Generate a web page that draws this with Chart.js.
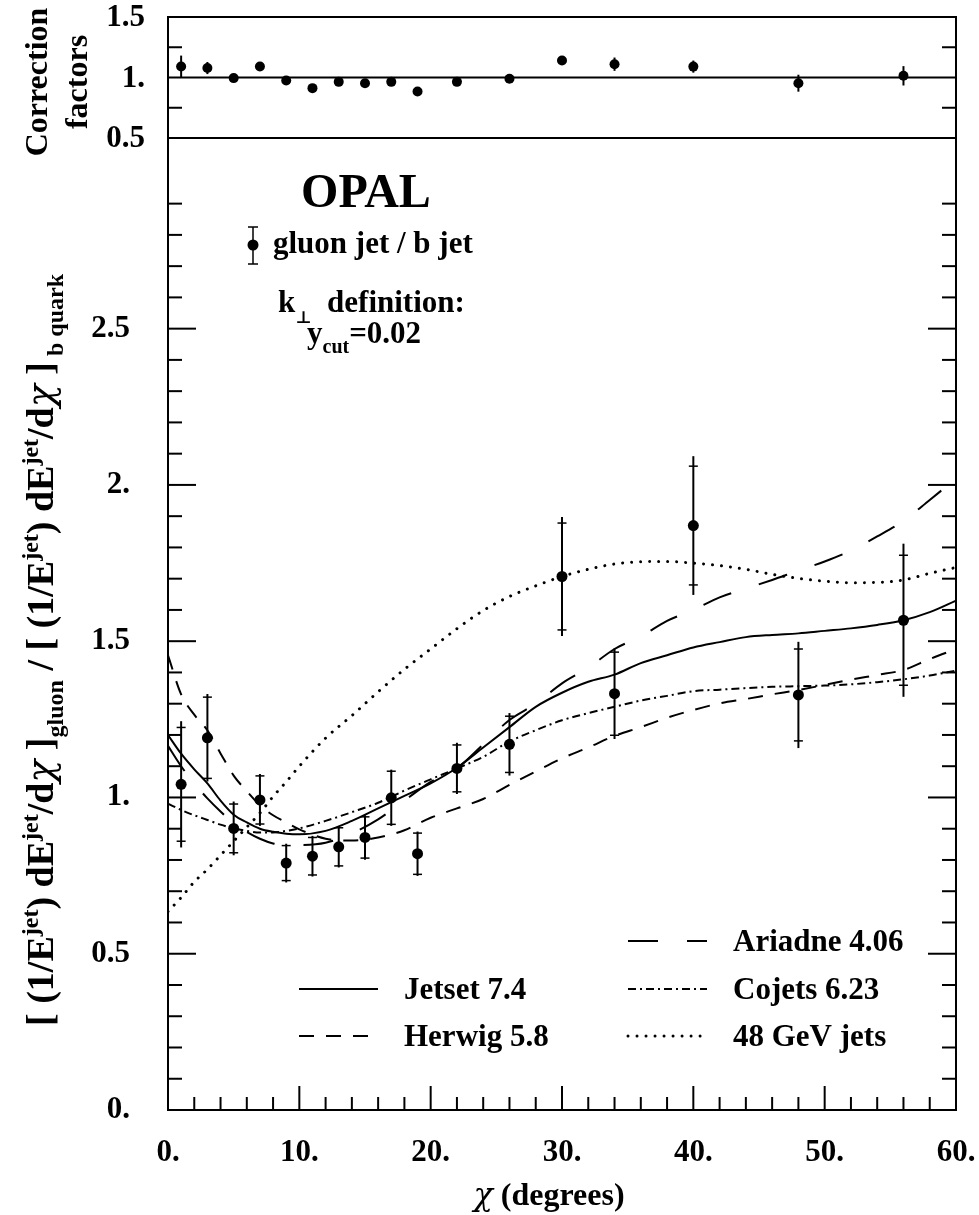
<!DOCTYPE html>
<html>
<head>
<meta charset="utf-8">
<script src="https://cdn.jsdelivr.net/npm/chart.js@4.4.1/dist/chart.umd.min.js"></script>
<style>
  html, body { margin: 0; padding: 0; background: #fff; }
  #wrap { position: relative; width: 979px; height: 1215px; }
  canvas { position: absolute; left: 0; top: 0; }
</style>
</head>
<body>
<div id="wrap">
  <canvas id="main" width="979" height="1215"></canvas>
  <canvas id="corr" width="979" height="1215"></canvas>
</div>
<script>
// measured points: gluon jet / b jet
const dataChi  = [1, 3, 5, 7, 9, 11, 13, 15, 17, 19, 22, 26, 30, 34, 40, 48, 56];
const ratio    = [1.042, 1.191, 0.901, 0.992, 0.790, 0.812, 0.842, 0.872, 0.999, 0.820, 1.093, 1.170, 1.707, 1.332, 1.870, 1.328, 1.567];
const statErr  = [0.182, 0.130, 0.078, 0.077, 0.056, 0.060, 0.061, 0.066, 0.085, 0.066, 0.075, 0.090, 0.171, 0.133, 0.190, 0.147, 0.208];
const totErr   = [0.202, 0.140, 0.086, 0.083, 0.062, 0.065, 0.066, 0.071, 0.090, 0.071, 0.082, 0.100, 0.190, 0.145, 0.222, 0.170, 0.245];

// correction factors (upper panel)
const corrFactor = [1.091, 1.078, 0.995, 1.091, 0.975, 0.912, 0.964, 0.953, 0.964, 0.884, 0.964, 0.989, 1.140, 1.110, 1.090, 0.953, 1.014];
const corrErr    = [0.090, 0.050, 0.030, 0.030, 0.020, 0.020, 0.020, 0.020, 0.020, 0.020, 0.020, 0.020, 0.035, 0.055, 0.050, 0.070, 0.080];

// model curves
const curveChi = [0, 1, 2, 3, 4, 5, 6, 7, 8, 9, 10, 12, 14, 16, 18, 20, 22, 24, 26, 28, 30, 32, 34, 36, 38, 40, 42, 44, 46, 48, 50, 52, 54, 56, 58, 60];
const jetset   = [1.200, 1.140, 1.090, 1.045, 0.990, 0.945, 0.920, 0.900, 0.890, 0.884, 0.882, 0.893, 0.925, 0.965, 1.005, 1.045, 1.095, 1.160, 1.225, 1.290, 1.335, 1.370, 1.393, 1.430, 1.455, 1.480, 1.497, 1.513, 1.520, 1.525, 1.533, 1.541, 1.552, 1.567, 1.593, 1.630];
const herwig   = [1.455, 1.330, 1.265, 1.215, 1.141, 1.070, 1.020, 0.975, 0.943, 0.920, 0.898, 0.868, 0.862, 0.872, 0.895, 0.935, 0.965, 0.995, 1.040, 1.083, 1.125, 1.160, 1.197, 1.225, 1.255, 1.280, 1.301, 1.315, 1.330, 1.344, 1.360, 1.377, 1.392, 1.408, 1.443, 1.475];
const ariadne  = [1.165, 1.100, 1.045, 0.997, 0.955, 0.917, 0.890, 0.868, 0.853, 0.848, 0.848, 0.855, 0.885, 0.930, 0.990, 1.050, 1.093, 1.170, 1.248, 1.300, 1.365, 1.415, 1.475, 1.515, 1.565, 1.600, 1.640, 1.668, 1.696, 1.726, 1.755, 1.790, 1.835, 1.885, 1.952, 2.020];
const cojets   = [0.980, 0.960, 0.943, 0.928, 0.913, 0.901, 0.893, 0.888, 0.888, 0.893, 0.901, 0.925, 0.953, 0.983, 1.022, 1.058, 1.093, 1.130, 1.179, 1.215, 1.247, 1.270, 1.290, 1.310, 1.325, 1.340, 1.345, 1.350, 1.354, 1.356, 1.358, 1.362, 1.369, 1.378, 1.390, 1.406];
const gev48    = [0.635, 0.680, 0.730, 0.770, 0.815, 0.860, 0.905, 0.950, 1.003, 1.050, 1.100, 1.190, 1.262, 1.338, 1.410, 1.475, 1.540, 1.598, 1.643, 1.677, 1.707, 1.730, 1.747, 1.754, 1.755, 1.750, 1.742, 1.730, 1.714, 1.701, 1.692, 1.687, 1.688, 1.696, 1.717, 1.736];

// axis ticks
const xTickVals   = [0, 10, 20, 30, 40, 50, 60];
const xTickLabels = ['0.', '10.', '20.', '30.', '40.', '50.', '60.'];
const yTickVals   = [0, 0.5, 1, 1.5, 2, 2.5];
const yTickLabels = ['0.', '0.5', '1.', '1.5', '2.', '2.5'];
const cTickVals   = [0.5, 1, 1.5];
const cTickLabels = ['0.5', '1.', '1.5'];

const SERIF = '"Liberation Serif", "DejaVu Serif", serif';
const GREEK = 'italic 1px "DejaVu Serif"';
const font = (s) => `bold ${s}px ${SERIF}`;
const greek = (s) => `italic ${s}px "DejaVu Serif", serif`;

function pts(xs, ys) { return xs.map((x, i) => ({ x, y: ys[i] })); }

// draws a run of text pieces [text, size, dy, greek?]
function rich(ctx, parts, x, y, align) {
  const f = (p) => p[3] ? greek(p[1]) : font(p[1]);
  let w = 0;
  for (const p of parts) { ctx.font = f(p); w += ctx.measureText(p[0]).width; }
  let cx = align === 'center' ? x - w / 2 : x;
  ctx.textAlign = 'left';
  ctx.textBaseline = 'alphabetic';
  for (const p of parts) {
    ctx.font = f(p);
    ctx.fillText(p[0], cx, y + (p[2] || 0));
    cx += ctx.measureText(p[0]).width;
  }
}

function line(ctx, x1, y1, x2, y2) {
  ctx.beginPath(); ctx.moveTo(x1, y1); ctx.lineTo(x2, y2); ctx.stroke();
}

const styles = {
  jetset:  { dash: [] },
  herwig:  { dash: [15, 12] },
  ariadne: { dash: [30, 29] },
  cojets:  { dash: [8, 4, 2, 4] },
  gev48:   { dash: [0.01, 9], width: 3, cap: 'round' }
};

function curve(label, ys, st) {
  return {
    type: 'line', label, data: pts(curveChi, ys),
    borderColor: '#000', borderWidth: st.width || 2, borderDash: st.dash,
    borderCapStyle: st.cap || 'butt', pointRadius: 0, fill: false,
    cubicInterpolationMode: 'monotone', order: 2
  };
}

const mainDeco = {
  id: 'mainDeco',
  afterDatasetsDraw(chart) {
    const { ctx, scales: { x, y } } = chart;
    ctx.save();
    ctx.strokeStyle = '#000';
    ctx.setLineDash([]);
    dataChi.forEach((c, i) => {
      const px = x.getPixelForValue(c);
      ctx.lineWidth = 2;
      line(ctx, px, y.getPixelForValue(ratio[i] + totErr[i]), px, y.getPixelForValue(ratio[i] - totErr[i]));
      ctx.lineWidth = 1.5;
      for (const s of [1, -1]) {
        const py = y.getPixelForValue(ratio[i] + s * statErr[i]);
        line(ctx, px - 4.5, py, px + 4.5, py);
      }
    });
    ctx.restore();
  },
  afterDraw(chart) {
    const { ctx, chartArea: a, scales: { x, y } } = chart;
    ctx.save();
    ctx.strokeStyle = '#000';
    ctx.fillStyle = '#000';
    ctx.lineWidth = 2;
    ctx.setLineDash([]);
    ctx.strokeRect(a.left, a.top, a.right - a.left, a.bottom - a.top);

    // x ticks
    for (let v = 0; v <= 60; v += 2) {
      const px = x.getPixelForValue(v);
      const len = v % 10 === 0 ? 24 : 13;
      line(ctx, px, a.bottom, px, a.bottom - len);
    }
    // y ticks (both sides)
    for (let i = 1; i < 30; i++) {
      const py = y.getPixelForValue(i / 10);
      const len = i % 5 === 0 ? 28 : 14;
      line(ctx, a.left, py, a.left + len, py);
      line(ctx, a.right, py, a.right - len, py);
    }
    // tick labels
    ctx.font = font(31);
    ctx.textAlign = 'center';
    ctx.textBaseline = 'middle';
    xTickVals.forEach((v, i) => ctx.fillText(xTickLabels[i], x.getPixelForValue(v), 1153));
    ctx.textAlign = 'right';
    yTickVals.forEach((v, i) => ctx.fillText(yTickLabels[i], 130, y.getPixelForValue(v)));

    // x title
    rich(ctx, [['\u03c7', 32, 0, true], [' (degrees)', 32]], 549, 1205, 'center');

    // y title
    ctx.save();
    ctx.translate(53, 650);
    ctx.rotate(-Math.PI / 2);
    const T = 38, S = 24;
    rich(ctx, [
      ['[ (1/E', T], ['jet', S, -15], [') dE', T], ['jet', S, -15], ['/d', T], ['\u03c7', T, 0, true], [' ]', T], ['gluon', S, 10],
      [' / [ (1/E', T], ['jet', S, -15], [') dE', T], ['jet', S, -15], ['/d', T], ['\u03c7', T, 0, true], [' ]', T], [' b quark', S, 10]
    ], 0, 0, 'center');
    ctx.restore();

    // OPAL block
    rich(ctx, [['OPAL', 48]], 366, 207, 'center');
    ctx.lineWidth = 1.5;
    line(ctx, 253, 227, 253, 264);
    line(ctx, 248, 227, 258, 227);
    line(ctx, 248, 264, 258, 264);
    ctx.beginPath(); ctx.arc(253, 245, 5.5, 0, Math.PI * 2); ctx.fill();
    rich(ctx, [['gluon jet / b jet', 31]], 273, 253);
    rich(ctx, [['k', 31], ['\u22a5', 17, 11], ['  definition:', 31]], 278, 312);
    rich(ctx, [['y', 31], ['cut', 20, 10], ['=0.02', 31]], 307, 343);

    // line legend
    const leg = [
      ['jetset', 'Jetset 7.4', 299, 989],
      ['herwig', 'Herwig 5.8', 299, 1036],
      ['ariadne', 'Ariadne 4.06', 628, 941],
      ['cojets', 'Cojets 6.23', 628, 989],
      ['gev48', '48 GeV jets', 628, 1036]
    ];
    for (const [k, txt, lx, ly] of leg) {
      const st = styles[k];
      ctx.save();
      ctx.lineWidth = st.width || 2;
      ctx.lineCap = st.cap || 'butt';
      ctx.setLineDash(st.dash);
      line(ctx, lx, ly, lx + 79, ly);
      ctx.restore();
      rich(ctx, [[txt, 31]], lx + 105, ly + 10);
    }
    ctx.restore();
  }
};

const corrDeco = {
  id: 'corrDeco',
  afterDatasetsDraw(chart) {
    const { ctx, scales: { x, y } } = chart;
    ctx.save();
    ctx.strokeStyle = '#000';
    ctx.lineWidth = 2;
    dataChi.forEach((c, i) => {
      const px = x.getPixelForValue(c);
      line(ctx, px, y.getPixelForValue(corrFactor[i] + corrErr[i]), px, y.getPixelForValue(corrFactor[i] - corrErr[i]));
    });
    ctx.restore();
  },
  afterDraw(chart) {
    const { ctx, chartArea: a, scales: { y } } = chart;
    ctx.save();
    ctx.strokeStyle = '#000';
    ctx.fillStyle = '#000';
    ctx.lineWidth = 2;
    ctx.strokeRect(a.left, a.top, a.right - a.left, a.bottom - a.top);
    const p1 = y.getPixelForValue(1);
    line(ctx, a.left, p1, a.right, p1);
    for (const v of [0.75, 1.25]) {
      const py = y.getPixelForValue(v);
      line(ctx, a.left, py, a.left + 14, py);
      line(ctx, a.right, py, a.right - 14, py);
    }
    ctx.font = font(31);
    ctx.textAlign = 'right';
    ctx.textBaseline = 'middle';
    cTickVals.forEach((v, i) => ctx.fillText(cTickLabels[i], 145, y.getPixelForValue(v) + 1));

    ctx.save();
    ctx.translate(47, 82);
    ctx.rotate(-Math.PI / 2);
    rich(ctx, [['Correction', 32]], 0, 0, 'center');
    ctx.restore();
    ctx.save();
    ctx.translate(87, 82);
    ctx.rotate(-Math.PI / 2);
    rich(ctx, [['factors', 32]], 0, 0, 'center');
    ctx.restore();
    ctx.restore();
  }
};

const hidden = { display: false };

new Chart(document.getElementById('main'), {
  type: 'line',
  data: {
    datasets: [
      curve('Jetset 7.4', jetset, styles.jetset),
      curve('Herwig 5.8', herwig, styles.herwig),
      curve('Ariadne 4.06', ariadne, styles.ariadne),
      curve('Cojets 6.23', cojets, styles.cojets),
      curve('48 GeV jets', gev48, styles.gev48),
      {
        type: 'scatter', label: 'gluon jet / b jet', data: pts(dataChi, ratio),
        pointRadius: 5.5, pointBackgroundColor: '#000', pointBorderWidth: 0,
        showLine: false, order: 1
      }
    ]
  },
  options: {
    responsive: false, animation: false, devicePixelRatio: 1,
    layout: { padding: { left: 168, right: 23, top: 138, bottom: 105 } },
    scales: {
      x: { type: 'linear', min: 0, max: 60, ...hidden },
      y: { type: 'linear', min: 0, max: 3.11, ...hidden }
    },
    plugins: { legend: hidden, tooltip: { enabled: false } }
  },
  plugins: [mainDeco]
});

new Chart(document.getElementById('corr'), {
  type: 'scatter',
  data: {
    datasets: [{
      label: 'Correction factors', data: pts(dataChi, corrFactor),
      pointRadius: 5, pointBackgroundColor: '#000', pointBorderWidth: 0
    }]
  },
  options: {
    responsive: false, animation: false, devicePixelRatio: 1,
    layout: { padding: { left: 168, right: 23, top: 17, bottom: 1077 } },
    scales: {
      x: { type: 'linear', min: 0, max: 60, ...hidden },
      y: { type: 'linear', min: 0.5, max: 1.5, ...hidden }
    },
    plugins: { legend: hidden, tooltip: { enabled: false } }
  },
  plugins: [corrDeco]
});
</script>
</body>
</html>
